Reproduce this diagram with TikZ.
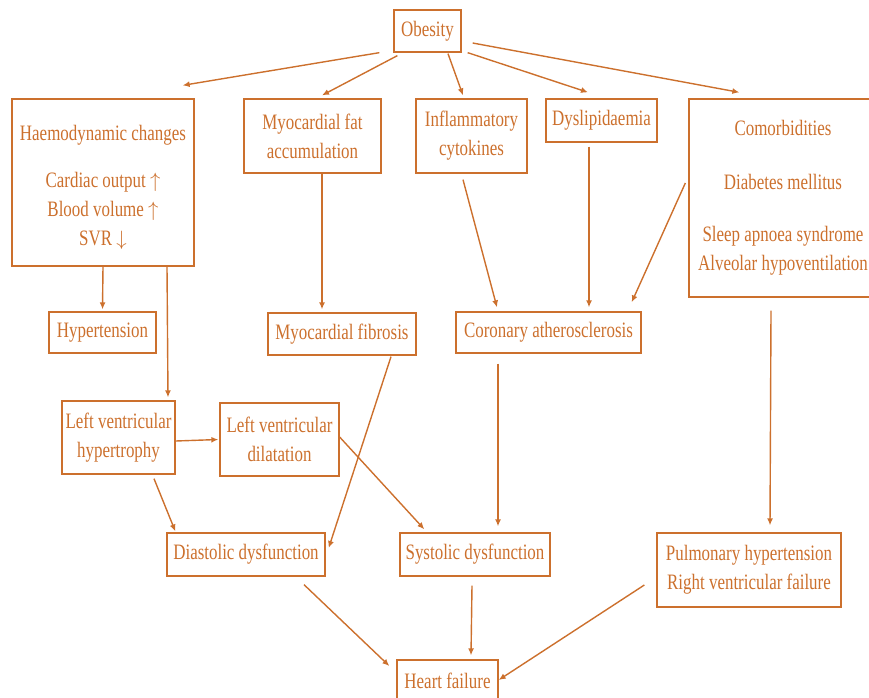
\documentclass[tikz,border=0pt]{standalone}
\usepackage{fontspec}
\setmainfont{Liberation Serif}[FakeStretch=0.77]
\usetikzlibrary{arrows.meta}
\definecolor{ochre}{RGB}{204,112,45}
\begin{document}
\begin{tikzpicture}[x=1pt,y=-1pt,thick,color=ochre,
    main node/.style={rectangle,draw,line width=1.3pt,inner sep=0pt,align=center,font=\fontsize{22}{29}\selectfont},
    link/.style={line width=1.4pt,-{Latex[length=7pt,width=6pt]}},
    every edge/.append style={line width=1.4pt}]
        \useasboundingbox (0,0) rectangle (869,697);
        \node[main node,minimum width=67pt,minimum height=42pt] at (427.5,31) (obes) {Obesity};
        \node[main node,minimum width=182pt,minimum height=167pt] at (103,182.5) (haemo) {\rule{0pt}{25pt}Haemodynamic changes\\[18pt] Cardiac output $\uparrow$\\ Blood volume $\uparrow$\\ SVR $\downarrow$};
        \node[main node,minimum width=137pt,minimum height=74pt] at (312.5,136) (fat) {Myocardial fat\\ accumulation};
        \node[main node,minimum width=111pt,minimum height=74pt] at (471.5,136) (cyto) {Inflammatory\\ cytokines};
        \node[main node,minimum width=111pt,minimum height=43pt] at (601.5,120.5) (lipid) {Dyslipidaemia};
        \node[main node,minimum width=188pt,minimum height=198pt] at (783,198) (comorb) {Comorbidities\\[25pt] Diabetes mellitus\\[23pt] Sleep apnoea syndrome\\ Alveolar hypoventilation};
        \node[main node,minimum width=107pt,minimum height=41pt] at (102.5,332.5) (hyper) {Hypertension};
        \node[main node,minimum width=148pt,minimum height=42pt] at (342,334) (fibro) {Myocardial fibrosis};
        \node[main node,minimum width=185pt,minimum height=41pt] at (548.5,332.5) (coron) {Coronary atherosclerosis};
        \node[main node,minimum width=113pt,minimum height=73pt] at (118.5,437.5) (lvh) {Left ventricular\\ hypertrophy};
        \node[main node,minimum width=119pt,minimum height=73pt] at (279.5,439.5) (lvd) {Left ventricular\\ dilatation};
        \node[main node,minimum width=158pt,minimum height=43pt] at (246,554.5) (diast) {Diastolic dysfunction};
        \node[main node,minimum width=150pt,minimum height=43pt] at (475,554.5) (syst) {Systolic dysfunction};
        \node[main node,minimum width=184pt,minimum height=74pt] at (749,570) (pulm) {Pulmonary hypertension\\ Right ventricular failure};
        \node[main node,minimum width=101pt,minimum height=42pt] at (447.5,681) (hf) {Heart failure};

        \path[link]
            ([xshift=-14pt]obes.south west) edge ([xshift=-12pt,yshift=13pt]haemo.north east)
            ([xshift=4pt,yshift=-3pt]obes.south west) edge ([xshift=9.5pt,yshift=3pt]fat.north)
            ([xshift=20.5pt,yshift=-1pt]obes.south) edge ([xshift=-8.5pt,yshift=3pt]cyto.north)
            ([xshift=6pt]obes.south east) edge ([xshift=-13.5pt,yshift=6pt]lipid.north)
            ([xshift=11pt,yshift=-12pt]obes.east) edge ([xshift=51pt,yshift=6pt]comorb.north west)
            (haemo.south) edge ([yshift=2pt]hyper.north)
            ([xshift=64pt]haemo.south) edge ([xshift=49.5pt,yshift=3pt]lvh.north)
            ([xshift=9.5pt]fat.south) edge ([xshift=-20pt,yshift=3pt]fibro.north)
            ([xshift=-8.5pt,yshift=-6pt]cyto.south) edge ([xshift=-51.5pt,yshift=4pt]coron.north)
            ([xshift=-12.5pt,yshift=-4pt]lipid.south) edge ([xshift=40.5pt,yshift=4pt]coron.north)
            ([xshift=-3pt,yshift=15pt]comorb.west) edge ([xshift=-10pt,yshift=9pt]coron.north east)
            ([xshift=-12pt,yshift=-13pt]comorb.south) edge ([xshift=21pt,yshift=7pt]pulm.north)
            ([xshift=49pt,yshift=-1pt]fibro.south) edge ([xshift=3pt,yshift=6.5pt]diast.east)
            ([yshift=-3.5pt]lvh.east) edge ([xshift=-1pt]lvd.west)
            ([xshift=35.5pt,yshift=-4pt]lvh.south) edge ([xshift=9pt,yshift=1pt]diast.north west)
            ([yshift=2.5pt]lvd.east) edge ([xshift=25pt,yshift=3pt]syst.north west)
            ([xshift=-50.5pt,yshift=-10pt]coron.south) edge ([xshift=23pt,yshift=6pt]syst.north)
            ([xshift=58pt,yshift=-8pt]diast.south) edge ([xshift=-7pt,yshift=15pt]hf.west)
            ([xshift=-3pt,yshift=-9pt]syst.south) edge ([xshift=23.5pt,yshift=4pt]hf.north)
            ([xshift=-12pt,yshift=-15pt]pulm.west) edge ([yshift=1pt]hf.east)
            ;
    \end{tikzpicture}
\end{document}
